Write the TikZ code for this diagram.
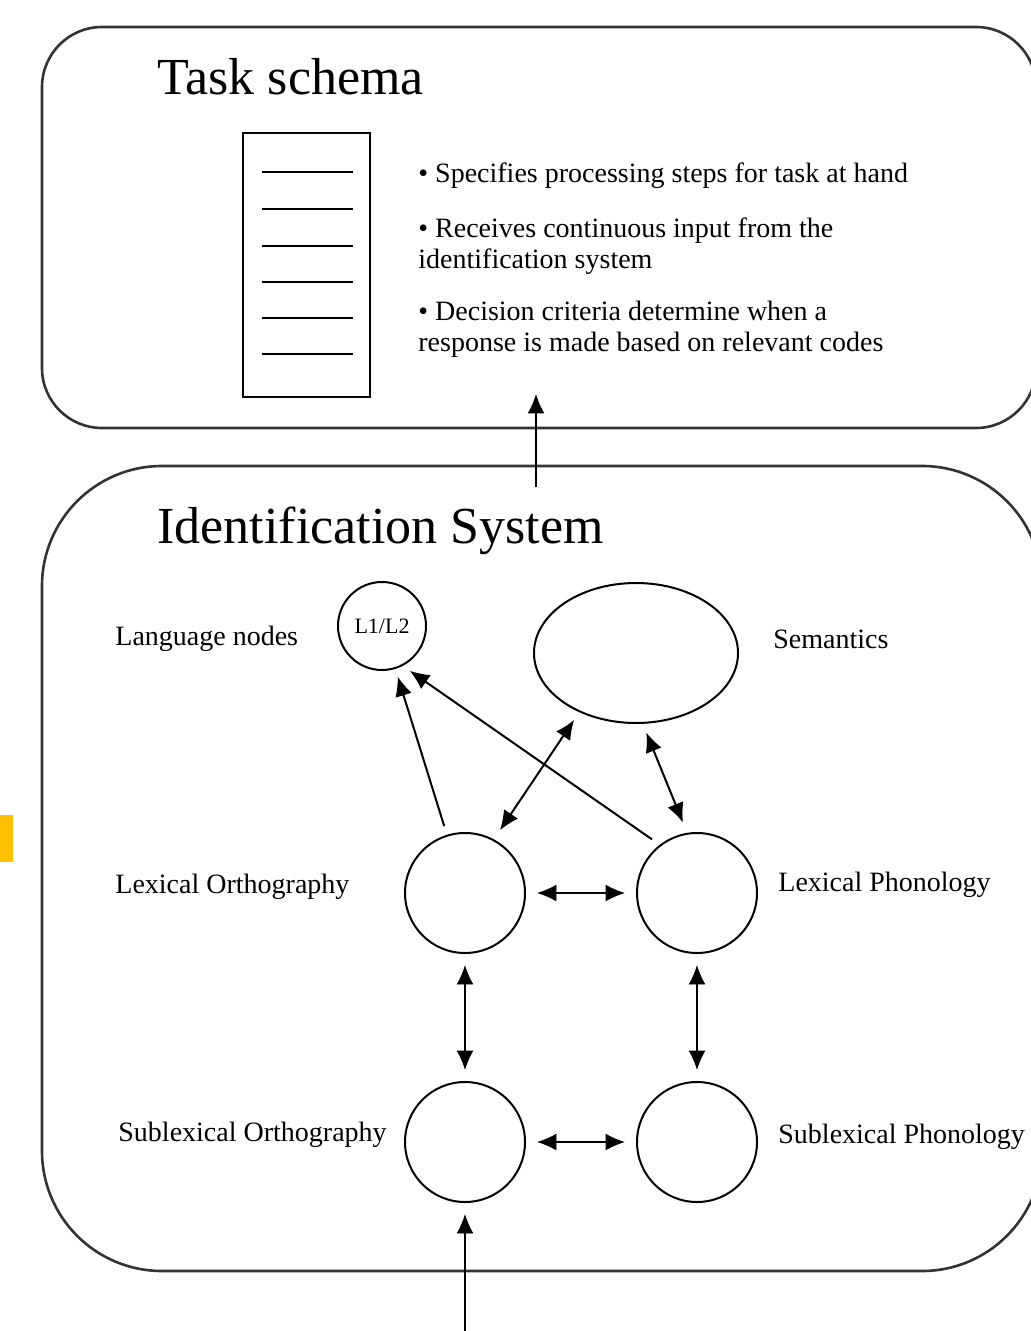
\documentclass[tikz,border=0pt]{standalone}
\usepackage{fontspec}
\setmainfont{Liberation Serif}
\usepackage{tikz}
\usetikzlibrary{
  positioning, calc, shapes.geometric,
	arrows.meta, decorations.markings}
\tikzset{
    Arrow/.style = {
        line width=1pt,
        decoration={
            markings,
            mark=at position 1 with {
                \arrow{Latex[length=11pt,width=9.5pt]}
                }
            },
        shorten >= 6pt,
        preaction = {decorate}
    },
    BiArrow/.style = {
        line width=1pt,
        decoration={
            markings,
            mark=at position 0 with {
                \arrowreversed{Latex[length=11pt,width=9.5pt]}
                },
            mark=at position 1 with {
                \arrow{Latex[length=11pt,width=9.5pt]}
                }
            },
        shorten >= 6pt, shorten <= 6pt,
        preaction = {decorate}
    },
    Panel/.style = {draw=black!80, line width=1.3pt},
    Unit/.style = {circle, draw, line width=1pt, minimum size=60pt,
        inner sep=0pt, outer sep=5pt},
    Lbl/.style = {anchor=west, inner sep=0pt, font=\fontsize{14}{16}\selectfont},
    Title/.style = {anchor=west, inner sep=0pt, font=\fontsize{26}{30}\selectfont},
    Note/.style = {anchor=west, inner sep=0pt, align=left,
        font=\fontsize{14}{15.5}\selectfont}
}
\definecolor{markFill}{HTML}{FFC000}

\begin{document}
\begin{tikzpicture}[x=0.5pt, y=-0.5pt]
    \useasboundingbox (0,0) rectangle (1030,1331);
    \fill[markFill] (0,815) rectangle (13,862);
    % task schema
    \draw [Panel, rounded corners=30pt] (42,27) rectangle (1036,428);
    \node [Title] (taskTitle) at (157,77) {Task schema};
    \draw [line width=1.2pt] (243,133) rectangle (370,397);
    \foreach \y in {172,209,246,282,318,354}
        \draw [line width=0.9pt] (262,\y) -- (353,\y);
    \node [Note] (step1) at (418,176) {• Specifies processing steps for task at hand};
    \node [Note] (step2) at (418,246) {• Receives continuous input from the\\identification system};
    \node [Note] (step3) at (418,329) {• Decision criteria determine when a\\response is made based on relevant codes};
    % identification system
    \draw [Panel, rounded corners=60pt] (42,466) rectangle (1042,1271);
    \node [Title] (idTitle) at (157,531) {Identification System};
    \node [Unit, minimum size=44pt, outer sep=3.5pt] (L12) at (382,626)
        {\fontsize{11}{12}\selectfont L1/L2};
    \node [ellipse, draw, line width=1pt, minimum width=102pt, minimum height=70pt,
        outer sep=4pt] (Sem) at (636,653) {};
    \node [Unit] (LexOrth) at (465,893) {};
    \node [Unit] (LexPhon) at (697,893) {};
    \node [Unit] (SubOrth) at (465,1142) {};
    \node [Unit] (SubPhon) at (697,1142) {};
    \node [Lbl] (langLbl) at (115,639) {Language nodes};
    \node [Lbl] (semLbl) at (773,639) {Semantics};
    \node [Lbl] (loLbl) at (115,887) {Lexical Orthography};
    \node [Lbl] (lpLbl) at (778,885) {Lexical Phonology};
    \node [Lbl] (soLbl) at (118,1135) {Sublexical Orthography};
    \node [Lbl] (spLbl) at (778,1137) {Sublexical Phonology};
    \coordinate (toTask) at (536,487);
    \coordinate (taskIn) at (536,392);
    \coordinate (input) at (465,1340);
    \draw [Arrow] (toTask) to (taskIn);
    \draw [Arrow] (input) to (SubOrth);
    \draw [Arrow] (LexOrth) to (L12);
    \draw [Arrow] (LexPhon.130) to (L12.-59);
    \draw [BiArrow] (LexOrth.61) to (Sem.227);
    \draw [BiArrow] (LexPhon.101) to (Sem.-83);
    \draw [BiArrow] (LexOrth) to (LexPhon);
    \draw [BiArrow] (LexOrth) to (SubOrth);
    \draw [BiArrow] (LexPhon) to (SubPhon);
    \draw [BiArrow] (SubOrth) to (SubPhon);
\end{tikzpicture}
\end{document}
